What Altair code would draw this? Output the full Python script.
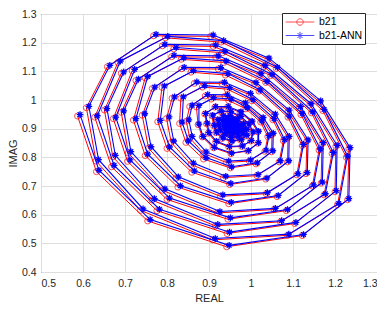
import altair as alt
import pandas as pd

# ---- data (loop by loop, 12 vertices per turn) ----
b21_real = [
    0.587, 0.632, 0.754, 0.942, 1.122, 1.230, 1.233, 1.163, 1.040, 0.904, 0.768, 0.658,
    0.608, 0.631, 0.737, 0.909, 1.087, 1.206, 1.227, 1.171, 1.060, 0.929, 0.796, 0.683,
    0.628, 0.668, 0.776, 0.943, 1.104, 1.200, 1.202, 1.140, 1.031, 0.910, 0.789, 0.691,
    0.651, 0.671, 0.764, 0.915, 1.070, 1.174, 1.193, 1.144, 1.047, 0.932, 0.816, 0.717,
    0.672, 0.706, 0.800, 0.945, 1.084, 1.167, 1.169, 1.115, 1.021, 0.916, 0.811, 0.726,
    0.691, 0.708, 0.789, 0.920, 1.055, 1.146, 1.162, 1.119, 1.035, 0.935, 0.834, 0.748,
    0.720, 0.748, 0.826, 0.947, 1.062, 1.131, 1.133, 1.088, 1.009, 0.922, 0.835, 0.765,
    0.741, 0.756, 0.821, 0.927, 1.036, 1.109, 1.122, 1.088, 1.019, 0.939, 0.857, 0.788,
    0.778, 0.800, 0.859, 0.949, 1.035, 1.087, 1.088, 1.055, 0.996, 0.931, 0.865, 0.812,
    0.799, 0.810, 0.857, 0.934, 1.014, 1.067, 1.077, 1.052, 1.002, 0.943, 0.884, 0.833,
    0.830, 0.845, 0.887, 0.951, 1.012, 1.049, 1.050, 1.026, 0.984, 0.938, 0.891, 0.854,
    0.846, 0.854, 0.887, 0.941, 0.996, 1.033, 1.040, 1.023, 0.988, 0.947, 0.905, 0.870,
    0.874, 0.884, 0.911, 0.952, 0.992, 1.016, 1.016, 1.001, 0.974, 0.944, 0.914, 0.890,
    0.894, 0.898, 0.916, 0.947, 0.978, 0.999, 1.003, 0.993, 0.974, 0.950, 0.927, 0.907,
    0.911, 0.916, 0.931, 0.953, 0.975, 0.988, 0.988, 0.980, 0.965, 0.949, 0.933, 0.919,
    0.922, 0.925, 0.935, 0.951, 0.967, 0.979, 0.981, 0.975, 0.965, 0.953, 0.940, 0.930,
    0.933, 0.936, 0.943, 0.954, 0.965, 0.972, 0.972, 0.968, 0.960, 0.952, 0.944, 0.937,
    0.941, 0.942, 0.946, 0.953, 0.961, 0.965, 0.966, 0.964, 0.959, 0.954, 0.948, 0.944,
    0.946, 0.947, 0.950, 0.955, 0.959, 0.962, 0.962, 0.960, 0.957, 0.954, 0.950, 0.948,
]
b21_imag = [
    0.944, 0.750, 0.578, 0.488, 0.527, 0.652, 0.830, 0.993, 1.142, 1.222, 1.224, 1.116,
    0.973, 0.787, 0.615, 0.512, 0.528, 0.635, 0.800, 0.963, 1.110, 1.202, 1.217, 1.131,
    0.940, 0.767, 0.614, 0.534, 0.569, 0.680, 0.838, 0.983, 1.116, 1.187, 1.189, 1.093,
    0.965, 0.802, 0.651, 0.561, 0.575, 0.669, 0.813, 0.955, 1.085, 1.165, 1.178, 1.102,
    0.935, 0.786, 0.653, 0.584, 0.614, 0.710, 0.847, 0.973, 1.088, 1.149, 1.151, 1.068,
    0.957, 0.815, 0.685, 0.606, 0.618, 0.700, 0.825, 0.949, 1.061, 1.131, 1.142, 1.077,
    0.930, 0.806, 0.696, 0.638, 0.663, 0.743, 0.857, 0.961, 1.057, 1.108, 1.109, 1.040,
    0.947, 0.832, 0.727, 0.664, 0.673, 0.739, 0.841, 0.940, 1.031, 1.087, 1.097, 1.044,
    0.924, 0.831, 0.748, 0.705, 0.724, 0.784, 0.869, 0.947, 1.019, 1.057, 1.058, 1.006,
    0.936, 0.852, 0.775, 0.729, 0.736, 0.784, 0.858, 0.931, 0.997, 1.038, 1.045, 1.006,
    0.918, 0.852, 0.794, 0.763, 0.777, 0.819, 0.880, 0.935, 0.986, 1.013, 1.014, 0.977,
    0.926, 0.868, 0.814, 0.782, 0.787, 0.821, 0.872, 0.923, 0.969, 0.998, 1.003, 0.976,
    0.914, 0.871, 0.833, 0.813, 0.822, 0.849, 0.889, 0.924, 0.957, 0.975, 0.975, 0.951,
    0.917, 0.884, 0.854, 0.836, 0.838, 0.857, 0.887, 0.915, 0.941, 0.958, 0.960, 0.945,
    0.910, 0.886, 0.866, 0.855, 0.860, 0.875, 0.896, 0.916, 0.933, 0.943, 0.943, 0.930,
    0.911, 0.894, 0.878, 0.868, 0.870, 0.880, 0.895, 0.910, 0.924, 0.933, 0.934, 0.926,
    0.907, 0.896, 0.885, 0.880, 0.882, 0.890, 0.901, 0.910, 0.919, 0.924, 0.924, 0.918,
    0.908, 0.900, 0.893, 0.889, 0.889, 0.894, 0.901, 0.907, 0.914, 0.917, 0.918, 0.914,
    0.906, 0.901, 0.897, 0.895, 0.896, 0.899, 0.903, 0.907, 0.911, 0.913, 0.913, 0.910,
]
ann_real = [
    0.593, 0.638, 0.760, 0.948, 1.125, 1.233, 1.236, 1.166, 1.043, 0.910, 0.774, 0.664,
    0.614, 0.637, 0.743, 0.915, 1.090, 1.209, 1.230, 1.174, 1.063, 0.935, 0.802, 0.689,
    0.634, 0.674, 0.782, 0.949, 1.107, 1.203, 1.205, 1.143, 1.034, 0.916, 0.795, 0.697,
    0.657, 0.677, 0.770, 0.921, 1.073, 1.177, 1.196, 1.147, 1.050, 0.938, 0.822, 0.723,
    0.678, 0.712, 0.806, 0.951, 1.087, 1.170, 1.172, 1.118, 1.024, 0.922, 0.817, 0.732,
    0.697, 0.714, 0.795, 0.926, 1.058, 1.149, 1.165, 1.122, 1.038, 0.941, 0.840, 0.754,
    0.726, 0.754, 0.832, 0.953, 1.065, 1.134, 1.136, 1.091, 1.012, 0.928, 0.841, 0.771,
    0.747, 0.762, 0.827, 0.933, 1.039, 1.112, 1.125, 1.091, 1.022, 0.945, 0.863, 0.794,
    0.784, 0.806, 0.865, 0.952, 1.038, 1.090, 1.091, 1.058, 0.999, 0.937, 0.871, 0.818,
    0.805, 0.816, 0.863, 0.940, 1.017, 1.070, 1.080, 1.055, 1.005, 0.949, 0.890, 0.839,
    0.836, 0.851, 0.893, 0.954, 1.015, 1.052, 1.053, 1.029, 0.987, 0.944, 0.897, 0.860,
    0.852, 0.860, 0.893, 0.947, 0.999, 1.036, 1.043, 1.026, 0.991, 0.953, 0.911, 0.876,
    0.876, 0.886, 0.913, 0.954, 0.994, 1.018, 1.018, 1.003, 0.976, 0.946, 0.916, 0.892,
    0.896, 0.900, 0.918, 0.949, 0.980, 1.001, 1.005, 0.995, 0.976, 0.952, 0.929, 0.909,
    0.913, 0.918, 0.933, 0.955, 0.977, 0.990, 0.990, 0.982, 0.967, 0.951, 0.935, 0.921,
    0.924, 0.927, 0.937, 0.953, 0.969, 0.981, 0.983, 0.977, 0.967, 0.955, 0.942, 0.932,
    0.935, 0.938, 0.945, 0.956, 0.967, 0.974, 0.974, 0.970, 0.962, 0.954, 0.946, 0.939,
    0.943, 0.944, 0.948, 0.955, 0.963, 0.967, 0.968, 0.966, 0.961, 0.956, 0.950, 0.946,
    0.948, 0.949, 0.952, 0.957, 0.961, 0.964, 0.964, 0.962, 0.959, 0.956, 0.952, 0.950,
]
ann_imag = [
    0.949, 0.755, 0.583, 0.493, 0.531, 0.656, 0.834, 0.997, 1.146, 1.227, 1.229, 1.121,
    0.978, 0.792, 0.620, 0.517, 0.532, 0.639, 0.804, 0.967, 1.114, 1.207, 1.222, 1.136,
    0.945, 0.772, 0.619, 0.539, 0.573, 0.684, 0.842, 0.987, 1.120, 1.192, 1.194, 1.098,
    0.970, 0.807, 0.656, 0.566, 0.579, 0.673, 0.817, 0.959, 1.089, 1.170, 1.183, 1.107,
    0.940, 0.791, 0.658, 0.589, 0.618, 0.714, 0.851, 0.977, 1.092, 1.154, 1.156, 1.073,
    0.962, 0.820, 0.690, 0.611, 0.622, 0.704, 0.829, 0.953, 1.065, 1.136, 1.147, 1.082,
    0.935, 0.811, 0.701, 0.643, 0.667, 0.747, 0.861, 0.965, 1.061, 1.113, 1.114, 1.045,
    0.952, 0.837, 0.732, 0.669, 0.677, 0.743, 0.845, 0.944, 1.035, 1.092, 1.102, 1.049,
    0.929, 0.836, 0.753, 0.709, 0.728, 0.788, 0.873, 0.951, 1.023, 1.062, 1.063, 1.011,
    0.941, 0.857, 0.780, 0.734, 0.740, 0.788, 0.862, 0.935, 1.001, 1.043, 1.050, 1.011,
    0.923, 0.857, 0.799, 0.767, 0.781, 0.823, 0.884, 0.939, 0.990, 1.018, 1.019, 0.982,
    0.931, 0.873, 0.819, 0.787, 0.791, 0.825, 0.876, 0.927, 0.973, 1.003, 1.008, 0.981,
    0.916, 0.873, 0.835, 0.815, 0.824, 0.851, 0.891, 0.926, 0.959, 0.977, 0.977, 0.953,
    0.919, 0.886, 0.856, 0.838, 0.840, 0.859, 0.889, 0.917, 0.943, 0.960, 0.962, 0.947,
    0.912, 0.888, 0.868, 0.857, 0.862, 0.877, 0.898, 0.918, 0.935, 0.945, 0.945, 0.932,
    0.913, 0.896, 0.880, 0.870, 0.872, 0.882, 0.897, 0.912, 0.926, 0.935, 0.936, 0.928,
    0.909, 0.898, 0.887, 0.882, 0.884, 0.892, 0.903, 0.912, 0.921, 0.926, 0.926, 0.920,
    0.910, 0.902, 0.895, 0.891, 0.891, 0.896, 0.903, 0.909, 0.916, 0.919, 0.920, 0.916,
    0.908, 0.903, 0.899, 0.897, 0.898, 0.901, 0.905, 0.909, 0.913, 0.915, 0.915, 0.912,
]

x_ticks = [0.5, 0.6, 0.7, 0.8, 0.9, 1.0, 1.1, 1.2, 1.3]
y_ticks = [0.4, 0.5, 0.6, 0.7, 0.8, 0.9, 1.0, 1.1, 1.2, 1.3]
series_names = ["b21", "b21-ANN"]
series_colors = ["#ff0000", "#0000ff"]

FONT = "Liberation Sans"
W, H = 336, 258

red_df = pd.DataFrame({"REAL": b21_real, "IMAG": b21_imag,
                       "step": list(range(len(b21_real)))})
blue_df = pd.DataFrame({"REAL": ann_real, "IMAG": ann_imag,
                        "step": list(range(len(ann_real)))})

x_enc = alt.X("REAL:Q",
              scale=alt.Scale(domain=[0.5, 1.3], nice=False, zero=False),
              axis=alt.Axis(values=x_ticks, format="~g", title="REAL",
                            titleX=W / 2, titleY=29, titleAlign="center",
                            titleBaseline="alphabetic"))
y_enc = alt.Y("IMAG:Q",
              scale=alt.Scale(domain=[0.4, 1.3], nice=False, zero=False),
              axis=alt.Axis(values=y_ticks, format="~g", title="IMAG",
                            titleX=-25, titleY=139, titleAngle=270,
                            titleAlign="center", titleBaseline="alphabetic"))

ast_path = "M-1,0L1,0M0,-1L0,1M-0.7,-0.7L0.7,0.7M-0.7,0.7L0.7,-0.7"
leg_circle = "M-2.2,0L2.2,0M0.5,0A0.5,0.5,0,1,1,-0.5,0A0.5,0.5,0,1,1,0.5,0"
leg_ast = ("M-2.2,0L2.2,0M0,-0.55L0,0.55M-0.39,-0.39L0.39,0.39"
           "M-0.39,0.39L0.39,-0.39")

base_red = alt.Chart(red_df).encode(x=x_enc, y=y_enc, order=alt.Order("step:Q"))
base_blue = alt.Chart(blue_df).encode(x=x_enc, y=y_enc, order=alt.Order("step:Q"))

red_line = base_red.mark_line(color="#ff0000", strokeWidth=1)
red_pts = base_red.mark_point(shape="circle", filled=False, color="#ff0000",
                              size=36, strokeWidth=1)
blue_line = base_blue.mark_line(color="#0000ff", strokeWidth=1.1)
blue_pts = base_blue.mark_point(shape=ast_path, filled=False, color="#0000ff",
                                size=44, strokeWidth=1.3, opacity=1)

leg = alt.Legend(title=None, orient="none", legendX=241, legendY=-1,
                 padding=2, symbolOffset=9, labelOffset=12, rowPadding=0.5,
                 symbolSize=169, symbolStrokeWidth=1,
                 strokeColor="#262626", fillColor="white",
                 labelFont=FONT, labelFontSize=10.5, labelColor="#000000")

legend_df = pd.DataFrame({"series": series_names})
legend_layer = alt.Chart(legend_df).transform_filter(
    "datum.series == 'none'"
).mark_point(filled=False, strokeWidth=1).encode(
    color=alt.Color("series:N",
                    scale=alt.Scale(domain=series_names, range=series_colors),
                    legend=leg),
    shape=alt.Shape("series:N",
                    scale=alt.Scale(domain=series_names, range=[leg_circle, leg_ast]),
                    legend=leg),
)

chart = alt.layer(red_line, red_pts, blue_line, blue_pts, legend_layer).properties(
    width=W, height=H,
    padding={"left": 33, "top": 6, "right": 0, "bottom": 31},
    autosize=alt.AutoSizeParams(type="none"),
    background="white",
).configure_view(
    stroke="#262626", strokeWidth=1
).configure_axis(
    grid=True, gridColor="#dedede", gridWidth=1, domain=False,
    ticks=False, tickSize=0, labelPadding=5,
    labelFont=FONT, labelFontSize=10.5, labelColor="#262626",
    titleFont=FONT, titleFontSize=11, titleFontWeight="normal",
    titleColor="#262626",
).configure_axisX(labelPadding=6)

chart.save("out.html", embed_options={"renderer": "svg", "actions": False})
